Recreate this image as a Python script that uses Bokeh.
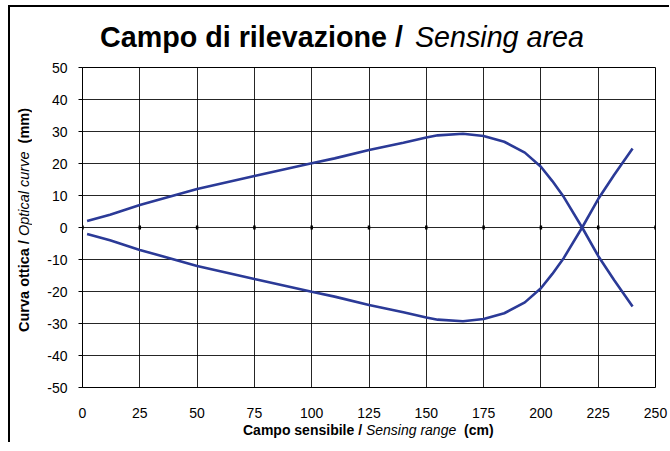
from bokeh.plotting import figure
from bokeh.models import Range1d, FixedTicker, Div
from bokeh.layouts import column, row
from bokeh.embed import file_html
from bokeh.resources import INLINE

# ---- data ----
x_upper = [2, 12, 25, 50, 75, 100, 110, 125, 140, 150, 155, 166, 175, 184, 193, 200, 205, 210, 218, 225, 232, 240]
y_upper = [2, 4.0, 7.0, 12.0, 16.1, 20.1, 21.6, 24.2, 26.5, 28.1, 28.8, 29.3, 28.6, 26.8, 23.4, 19.0, 14.5, 9.5, 0, -8.9, -16.5, -24.7]
x_lower = [2, 12, 25, 50, 75, 100, 110, 125, 140, 150, 155, 166, 175, 184, 193, 200, 205, 210, 218, 225, 232, 240]
y_lower = [-2, -4.0, -7.0, -12.0, -16.1, -20.1, -21.6, -24.2, -26.5, -28.1, -28.8, -29.3, -28.6, -26.8, -23.4, -19.0, -14.5, -9.5, 0, 8.9, 16.5, 24.7]
x_ticks = [0, 25, 50, 75, 100, 125, 150, 175, 200, 225, 250]
y_ticks = [-50, -40, -30, -20, -10, 0, 10, 20, 30, 40, 50]

title_bold = "Campo di rilevazione /"
title_italic = "Sensing area"
xlab_bold = "Campo sensibile /"
xlab_italic = "Sensing range"
xlab_unit = "(cm)"
ylab_bold = "Curva ottica /"
ylab_italic = "Optical curve"
ylab_unit = "(mm)"

LINE = "#2B3A97"
FONT = "Liberation Sans"

FIG_H = 10 + 320 + 35
FIG_W = 42 + 573 + 14
YLAB_W = 30
TOTAL_W = YLAB_W + FIG_W

p = figure(
    x_range=Range1d(0, 250), y_range=Range1d(-50, 50),
    frame_width=573, frame_height=320,
    min_border_left=42, min_border_right=14, min_border_top=10, min_border_bottom=35,
    output_backend="svg", toolbar_location=None,
)
p.background_fill_color = "white"
p.border_fill_color = "white"
p.outline_line_color = "black"
p.outline_line_width = 1

# grids
p.xgrid.ticker = FixedTicker(ticks=x_ticks)
p.ygrid.ticker = FixedTicker(ticks=y_ticks)
for g in (p.xgrid, p.ygrid):
    g.grid_line_color = "black"
    g.grid_line_width = 1
    g.grid_line_alpha = 0.85

# axes
xa = p.xaxis[0]
xa.ticker = FixedTicker(ticks=x_ticks)
xa.major_label_overrides = {t: str(t) for t in x_ticks}
xa.axis_line_color = None
xa.major_tick_line_color = None
xa.minor_tick_line_color = None
xa.major_label_standoff = 14
xa.major_label_text_font = FONT
xa.major_label_text_font_size = "14px"
xa.major_label_text_color = "black"

ya = p.yaxis[0]
ya.ticker = FixedTicker(ticks=y_ticks)
ya.major_label_overrides = {t: str(t) for t in y_ticks}
ya.axis_line_color = "black"
ya.axis_line_width = 1
ya.major_tick_line_color = "black"
ya.major_tick_out = 4
ya.major_tick_in = 0
ya.minor_tick_line_color = None
ya.major_label_standoff = 11
ya.major_label_text_font = FONT
ya.major_label_text_font_size = "14px"
ya.major_label_text_color = "black"

# small tick marks on the zero line (Excel axis crossing at 0)
p.segment(x0=x_ticks, y0=[-0.6] * len(x_ticks), x1=x_ticks, y1=[0.6] * len(x_ticks),
          line_color="black", line_width=2.5)

# curves
p.line(x_upper, y_upper, line_color=LINE, line_width=2.6)
p.line(x_lower, y_lower, line_color=LINE, line_width=2.6)

base = f"font-family:'{FONT}'; color:black; white-space:nowrap;"

title_div = Div(
    text=(f"<div style=\"{base} font-size:28.7px; line-height:28px; padding-left:90px; padding-top:16px;\">"
          f"<b>{title_bold}</b> <i style='margin-left:4px'>{title_italic}</i></div>"),
    width=TOTAL_W, height=50, margin=0,
)

ylab_div = Div(
    text=(f"<div style=\"{base} font-size:14.5px; line-height:14px; writing-mode:vertical-rl; "
          f"transform:rotate(180deg); width:14px; height:275px; margin-left:7px;\">"
          f"<b>{ylab_bold}</b> <i>{ylab_italic}</i>&nbsp;&nbsp;<b>{ylab_unit}</b></div>"),
    width=YLAB_W, height=FIG_H, margin=0,
)

xlab_div = Div(
    text=(f"<div style=\"{base} font-size:14px; line-height:14px; padding-left:233px; padding-top:1px;\">"
          f"<b>{xlab_bold}</b> <i>{xlab_italic}</i>&nbsp;&nbsp;<b>{xlab_unit}</b></div>"),
    width=TOTAL_W, height=20, margin=0,
)

layout = column(
    title_div,
    row(ylab_div, p, spacing=0),
    xlab_div,
    spacing=0,
    styles={"border-top": "2px solid black", "border-left": "2px solid black",
            "margin-left": "8px", "margin-top": "5px"},
)

open("out.html", "w").write(file_html(layout, INLINE))
